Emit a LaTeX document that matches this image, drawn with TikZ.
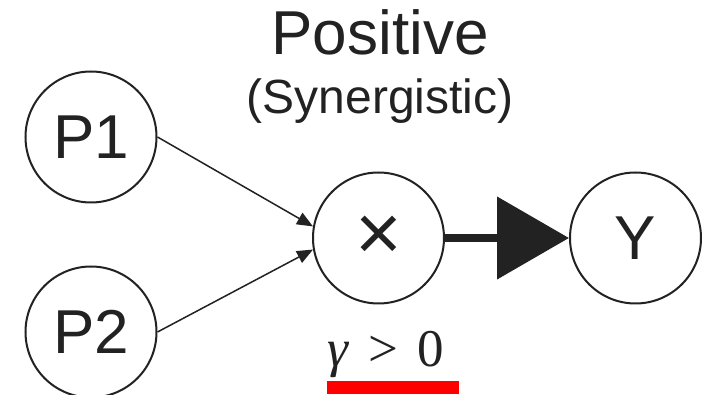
\documentclass[tikz,border=0pt]{standalone}
\usepackage{fontspec}
\setmainfont{Liberation Sans}
\newfontfamily\serifgreek{Liberation Serif}
\usetikzlibrary{arrows.meta}
\definecolor{ink}{HTML}{222222}
\tikzset{
  circ/.style={circle, draw=ink, line width=2pt, minimum size=131pt, inner sep=0pt, text=ink,
    font=\fontsize{62}{62}\selectfont},
  thin/.style={draw=ink, line width=1.5pt, -{Triangle[length=16pt,width=13pt]}},
  thick/.style={draw=ink, line width=8pt, -{Triangle[length=72pt,width=81pt]}},
}
\begin{document}
\begin{tikzpicture}[x=1pt,y=-1pt]
\useasboundingbox[fill=white] (0,0) rectangle (713,395);
\node[circ] (P1) at (91,137) {P1};
\node[circ] (P2) at (91,332) {P2};
\node[circ, font=\fontsize{80}{80}\selectfont] (X) at (378.5,238) {×};
\node[circ] (Y) at (635.5,238) {Y};
\draw[thin] (P1.east) -- (X.170);
\draw[thin] (P2.east) -- (X.190);
\draw[thick] (X.east) -- (Y.west);
\node[anchor=base, text=ink, font=\fontsize{62}{62}\selectfont, inner sep=0pt] (title) at (380,55) {Positive};
\node[anchor=base, text=ink, font=\fontsize{48}{48}\selectfont, inner sep=0pt] (sub) at (380,114) {(Synergistic)};
\node[anchor=base west, text=ink, font=\fontsize{53}{53}\selectfont\serifgreek, inner sep=0pt] (gam) at (327,367) {\textit{γ}\hspace{0.36em}>\hspace{0.36em}0};
\fill[red] (327,381) rectangle (459,394);
\end{tikzpicture}
\end{document}
